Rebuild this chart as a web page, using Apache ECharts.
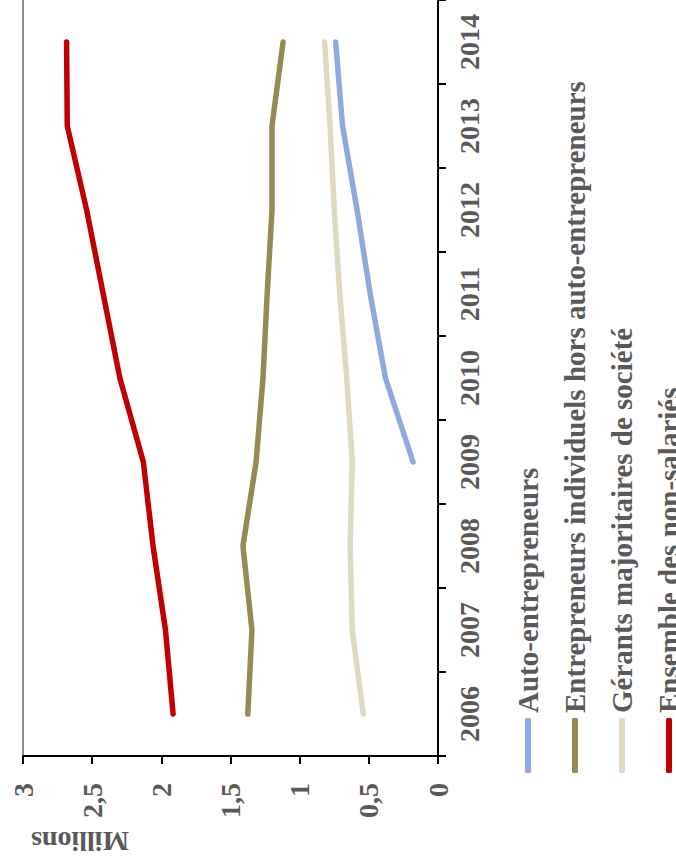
<!DOCTYPE html>
<html lang="fr">
<head>
<meta charset="utf-8">
<title>Non-salariés 2006-2014</title>
<script src="https://cdn.jsdelivr.net/npm/echarts@6/dist/echarts.min.js"></script>
<style>
  html, body { margin: 0; padding: 0; background: #fff; overflow: hidden; }
  body { width: 676px; height: 864px; position: relative; }
  /* The chart is laid out landscape and turned a quarter turn counter-clockwise. */
  #chart {
    position: absolute;
    left: -94px; top: 94px;
    width: 864px; height: 676px;
    transform: rotate(-90deg);
    transform-origin: 50% 50%;
  }
</style>
</head>
<body>
<div id="chart"></div>
<script>
// Years (category axis)
const years = ['2006', '2007', '2008', '2009', '2010', '2011', '2012', '2013', '2014'];

// Headcounts, in millions
const autoEntrepreneurs = [null, null, null, 0.18, 0.38, 0.49, 0.585, 0.69, 0.74];
const entrepreneursIndividuels = [1.375, 1.345, 1.41, 1.315, 1.265, 1.235, 1.20, 1.20, 1.12];
const gerantsMajoritaires = [0.54, 0.62, 0.635, 0.62, 0.66, 0.71, 0.75, 0.78, 0.82];
const ensembleNonSalaries = [1.915, 1.97, 2.06, 2.13, 2.30, 2.42, 2.54, 2.68, 2.685];

// Value axis tick labels (French decimal comma)
const valueTicks = ['0', '0,5', '1', '1,5', '2', '2,5', '3'];

const seriesNames = [
  'Auto-entrepreneurs',
  'Entrepreneurs individuels hors auto-entrepreneurs',
  'Gérants majoritaires de société',
  'Ensemble des non-salariés'
];
const seriesColors = ['#8eaadc', '#948a54', '#ddd9c3', '#c00000'];
const seriesData = [autoEntrepreneurs, entrepreneursIndividuels, gerantsMajoritaires, ensembleNonSalaries];

const FONT = '"Liberation Serif", "DejaVu Serif", serif';
const TEXT = '#595959';

const chart = echarts.init(document.getElementById('chart'), null, { renderer: 'svg', width: 864, height: 676 });

chart.setOption({
  animation: false,
  backgroundColor: '#ffffff',
  color: seriesColors,
  grid: { left: 108, top: 23, width: 759, height: 415, containLabel: false },
  legend: {
    orient: 'vertical',
    left: 91,
    top: 513,
    height: 240,
    padding: 0,
    itemWidth: 55,
    itemHeight: 6,
    itemGap: 17,
    icon: 'roundRect',
    data: seriesNames,
    textStyle: { fontFamily: FONT, fontWeight: 'bold', fontSize: 29, lineHeight: 30, color: TEXT }
  },
  xAxis: {
    type: 'category',
    data: years,
    boundaryGap: true,
    axisLine: { lineStyle: { color: '#000', width: 2 } },
    axisTick: { show: true, length: 8, lineStyle: { color: '#000', width: 2 } },
    axisLabel: { margin: 17, fontFamily: FONT, fontWeight: 'bold', fontSize: 28, color: TEXT }
  },
  yAxis: {
    type: 'value',
    min: 0, max: 3, interval: 0.5,
    axisLine: { show: true, lineStyle: { color: '#000', width: 2 } },
    axisTick: { show: true, length: 8, lineStyle: { color: '#000', width: 2 } },
    axisLabel: {
      margin: 27,
      fontFamily: FONT, fontWeight: 'bold', fontSize: 28, color: TEXT,
      formatter: (v, i) => valueTicks[i]
    },
    splitLine: {
      show: true,
      lineStyle: {
        width: 2,
        color: ['rgba(0,0,0,0)', 'rgba(0,0,0,0)', 'rgba(0,0,0,0)', 'rgba(0,0,0,0)',
                'rgba(0,0,0,0)', 'rgba(0,0,0,0)', '#8c8c8c']
      }
    }
  },
  graphic: [{
    type: 'text',
    x: 23, y: 80,
    rotation: Math.PI / 2,
    style: {
      text: 'Millions',
      fontFamily: FONT, fontWeight: 'bold', fontSize: 28, fill: TEXT,
      align: 'center', verticalAlign: 'middle'
    }
  }],
  series: seriesNames.map((name, i) => ({
    name: name,
    type: 'line',
    data: seriesData[i],
    showSymbol: false,
    symbol: 'none',
    connectNulls: false,
    lineStyle: { width: 5.5, color: seriesColors[i], cap: 'round', join: 'round' },
    itemStyle: { color: seriesColors[i] }
  }))
});
</script>
</body>
</html>
